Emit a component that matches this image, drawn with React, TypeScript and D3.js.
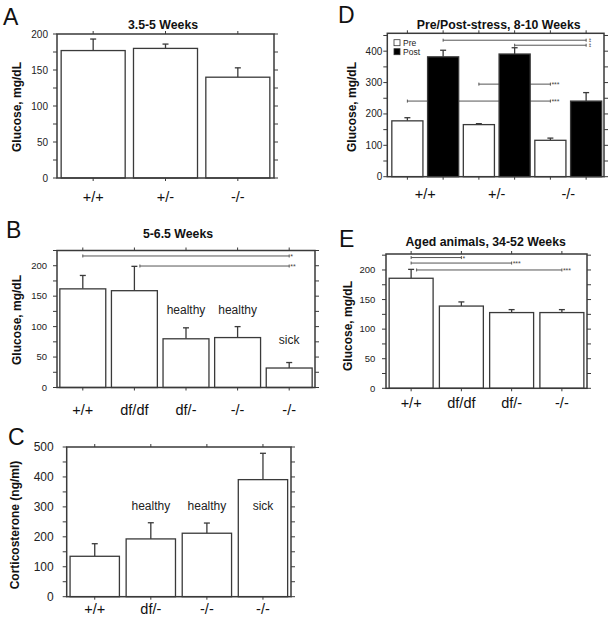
import React from 'react';
import * as d3 from 'd3';

// ---------- data ----------
const catsA = ['+/+', '+/-', '-/-'];
const valsA = [177, 180, 140];
const errA = [193, 186, 153];

const catsB = ['+/+', 'df/df', 'df/-', '-/-', '-/-'];
const valsB = [162, 159, 80, 82, 32];
const errB = [184, 199, 98, 100, 41];
const notesB = ['', '', 'healthy', 'healthy', 'sick'];
const noteValsB = [0, 0, 127, 127, 78];

const catsC = ['+/+', 'df/-', '-/-', '-/-'];
const valsC = [135, 193, 212, 391];
const errC = [177, 247, 246, 479];
const notesC = ['', 'healthy', 'healthy', 'sick'];
const noteValsC = [0, 304, 304, 304];

const catsD = ['+/+', '+/-', '-/-'];
const seriesD = ['Pre', 'Post'];
const preD = [178, 166, 116];
const preErrD = [188, 169, 123];
const postD = [382, 391, 241];
const postErrD = [403, 411, 268];

const catsE = ['+/+', 'df/df', 'df/-', '-/-'];
const valsE = [186, 139, 128, 128];
const errE = [201, 146, 133, 133];

const ticksGlucose = [0, 50, 100, 150, 200];
const ticksD = [0, 100, 200, 300, 400];
const ticksC = [0, 100, 200, 300, 400, 500];

type Sig = { from: number; to: number; value: number; label: string; afterCap?: boolean; behind?: boolean; vertical?: boolean };
const sigB: Sig[] = [
  { from: 0, to: 4, value: 216, label: '*' },
  { from: 1, to: 4, value: 199.5, label: '**', afterCap: true },
];
const sigD: Sig[] = [
  { from: 1, to: 5, value: 435, label: '**', vertical: true },
  { from: 3, to: 5, value: 419, label: '**', vertical: true },
  { from: 2, to: 4, value: 295, label: '***', behind: true },
  { from: 0, to: 4, value: 241, label: '***', behind: true },
];
const sigE: Sig[] = [
  { from: 0, to: 1, value: 221, label: '*' },
  { from: 0, to: 2, value: 211.7, label: '***' },
  { from: 0, to: 3, value: 200, label: '***', afterCap: true },
];

// ---------- rendering ----------
const FONT = '"Liberation Sans", Arial, Helvetica, sans-serif';
const INK = '#222';
const LINE = '#3a3a3a';

type Bar = { v: number; e: number; fill: string; note?: string; noteV?: number };

type PanelProps = {
  l: number; r: number; t: number; b: number;
  bandL?: number; bandR?: number;
  ymax: number; ticks: number[]; minorStep: number;
  bars: Bar[]; barFrac: number;
  xLabels: { text: string; idx: number[] }[]; xLabelBase: number; xFont?: number;
  title: string; titleX: number; titleY: number;
  ylabel: string; ylabelX: number; ylabelY: number;
  letter: string; letterX: number; letterY: number;
  tickFont: number; labelGap: number;
  sigs?: Sig[];
  legend?: { names: string[]; fills: string[]; x: number; y: number };
};

function Panel(p: PanelProps) {
  const x = d3.scaleBand<number>()
    .domain(d3.range(p.bars.length))
    .range([p.bandL ?? p.l, p.bandR ?? p.r])
    .padding(0);
  const y = d3.scaleLinear().domain([0, p.ymax]).range([p.b, p.t]);
  const bw = x.bandwidth() * p.barFrac;
  const cx = (i: number) => (x(i) as number) + x.bandwidth() / 2;
  const minor = d3.range(0, p.ymax + 0.001, p.minorStep);
  const cap = 3;

  const sigEl = (s: Sig, k: number) => {
    const yy = y(s.value);
    const x1 = cx(s.from) + (s.afterCap ? cap + 2.5 : 0);
    const x2 = cx(s.to);
    return (
      <g key={'s' + k} stroke="#555" strokeWidth={1}>
        <line x1={x1} x2={x2} y1={yy} y2={yy} />
        <line x1={x1} x2={x1} y1={yy - 1.5} y2={yy + 1.5} />
        <line x1={x2} x2={x2} y1={yy - 1.5} y2={yy + 1.5} />
        {s.vertical ? (
          <text transform={`translate(${x2 + 2.5},${yy}) rotate(90)`} fontSize={5} fill="#444" stroke="none"
            textAnchor="middle" dominantBaseline="central" fontFamily={FONT}>{s.label}</text>
        ) : (
          <text x={x2 + 1} y={yy + 3} fontSize={7} fill="#444" stroke="none" fontFamily={FONT}>{s.label}</text>
        )}
      </g>
    );
  };

  return (
    <g fontFamily={FONT}>
      <text x={p.letterX} y={p.letterY} fontSize={23} fill="#111">{p.letter}</text>
      {p.title ? (
        <text x={p.titleX} y={p.titleY} fontSize={12.3} fontWeight="bold" textAnchor="middle" fill="#111">{p.title}</text>
      ) : null}
      <text transform={`translate(${p.ylabelX},${p.ylabelY}) rotate(-90)`} fontSize={12} fontWeight="bold"
        textAnchor="middle" dominantBaseline="central" fill="#111">{p.ylabel}</text>

      {(p.sigs || []).filter(s => s.behind).map(sigEl)}

      {p.bars.map((d, i) => (
        <g key={i}>
          <line x1={cx(i)} x2={cx(i)} y1={y(d.v)} y2={y(d.e)} stroke={LINE} strokeWidth={1.3} />
          <line x1={cx(i) - cap} x2={cx(i) + cap} y1={y(d.e)} y2={y(d.e)} stroke={LINE} strokeWidth={1.3} />
          <rect x={cx(i) - bw / 2} y={y(d.v)} width={bw} height={y(0) - y(d.v)}
            fill={d.fill} stroke={LINE} strokeWidth={1.3} />
          {d.note ? (
            <text x={cx(i)} y={y(d.noteV || 0)} fontSize={12} textAnchor="middle" dominantBaseline="central" fill={INK}>{d.note}</text>
          ) : null}
        </g>
      ))}

      {(p.sigs || []).filter(s => !s.behind).map(sigEl)}

      <rect x={p.l} y={p.t} width={p.r - p.l} height={p.b - p.t} fill="none" stroke={LINE} strokeWidth={1.5} />
      {minor.map((v, i) => (
        <g key={'m' + i} stroke={LINE} strokeWidth={1}>
          <line x1={p.l - 4} x2={p.l} y1={y(v)} y2={y(v)} />
          <line x1={p.r} x2={p.r + 4} y1={y(v)} y2={y(v)} />
        </g>
      ))}
      {p.ticks.map(v => (
        <text key={'t' + v} x={p.l - p.labelGap} y={y(v)} dy="0.35em" fontSize={p.tickFont} textAnchor="end" fill={INK}>{v}</text>
      ))}
      {p.bars.map((_, i) => (
        <g key={'c' + i} stroke={LINE} strokeWidth={1}>
          <line x1={cx(i)} x2={cx(i)} y1={p.t - 3} y2={p.t} />
          <line x1={cx(i)} x2={cx(i)} y1={p.b} y2={p.b + 3} />
        </g>
      ))}
      {p.xLabels.map((lb, i) => (
        <text key={'x' + i} x={d3.mean(lb.idx.map(cx)) as number} y={p.xLabelBase} fontSize={p.xFont ?? 14.5}
          textAnchor="middle" fill="#111">{lb.text}</text>
      ))}

      {p.legend ? (
        <g>
          {p.legend.names.map((n, i) => (
            <g key={n}>
              <rect x={p.legend!.x} y={p.legend!.y + i * 9 - 3} width={6} height={6} fill={p.legend!.fills[i]} stroke="#333" strokeWidth={0.8} />
              <text x={p.legend!.x + 9} y={p.legend!.y + i * 9} dy="0.35em" fontSize={8.5} fill={INK}>{n}</text>
            </g>
          ))}
        </g>
      ) : null}
    </g>
  );
}

const simpleBars = (vals: number[], errs: number[], notes?: string[], noteVals?: number[]): Bar[] =>
  vals.map((v, i) => ({ v, e: errs[i], fill: '#fff', note: notes ? notes[i] : undefined, noteV: noteVals ? noteVals[i] : undefined }));

export default function App() {
  const barsD: Bar[] = [];
  catsD.forEach((_, i) => {
    barsD.push({ v: preD[i], e: preErrD[i], fill: '#fff' });
    barsD.push({ v: postD[i], e: postErrD[i], fill: '#000' });
  });
  return (
    <svg width={611} height={625} style={{ position: 'absolute', left: 0, top: 0, background: '#fff' }}>
      <rect width={611} height={625} fill="#fff" />
      <Panel l={57} r={274} t={34} b={178} ymax={200} ticks={ticksGlucose} minorStep={25}
        bars={simpleBars(valsA, errA)} barFrac={0.885}
        xLabels={catsA.map((c, i) => ({ text: c, idx: [i] }))} xLabelBase={201.7}
        title="3.5-5 Weeks" titleX={163} titleY={29}
        ylabel="Glucose, mg/dL" ylabelX={17} ylabelY={107}
        letter="A" letterX={3} letterY={25} tickFont={10} labelGap={9} />
      <Panel l={57} r={315} t={250.5} b={387.5} ymax={225} ticks={ticksGlucose} minorStep={25}
        bars={simpleBars(valsB, errB, notesB, noteValsB)} barFrac={0.89}
        xLabels={catsB.map((c, i) => ({ text: c, idx: [i] }))} xLabelBase={415}
        title="5-6.5 Weeks" titleX={178} titleY={238}
        ylabel="Glucose, mg/dL" ylabelX={17} ylabelY={320}
        letter="B" letterX={6} letterY={238} tickFont={9.5} labelGap={10} sigs={sigB} />
      <Panel l={66.7} r={291} t={447} b={596.7} ymax={500} ticks={ticksC} minorStep={50}
        bars={simpleBars(valsC, errC, notesC, noteValsC)} barFrac={0.88}
        xLabels={catsC.map((c, i) => ({ text: c, idx: [i] }))} xLabelBase={614}
        title="" titleX={0} titleY={0}
        ylabel="Corticosterone (ng/ml)" ylabelX={15} ylabelY={525}
        letter="C" letterX={8} letterY={445} tickFont={12} labelGap={13} />
      <Panel l={387.3} r={604} bandL={389.5} bandR={604} t={33.3} b={176.7} ymax={457} ticks={ticksD} minorStep={50}
        bars={barsD} barFrac={0.87}
        xLabels={catsD.map((c, i) => ({ text: c, idx: [2 * i, 2 * i + 1] }))} xLabelBase={199}
        title="Pre/Post-stress, 8-10 Weeks" titleX={498.7} titleY={29}
        ylabel="Glucose, mg/dL" ylabelX={352} ylabelY={107}
        letter="D" letterX={338} letterY={23} tickFont={10} labelGap={5} sigs={sigD}
        legend={{ names: seriesD, fills: ['#fff', '#000'], x: 394, y: 42.7 }} />
      <Panel l={386} r={587} t={254} b={388.3} ymax={227} ticks={ticksGlucose} minorStep={25}
        bars={simpleBars(valsE, errE)} barFrac={0.875}
        xLabels={catsE.map((c, i) => ({ text: c, idx: [i] }))} xLabelBase={408}
        title="Aged animals, 34-52 Weeks" titleX={485.7} titleY={246}
        ylabel="Glucose, mg/dL" ylabelX={348} ylabelY={326}
        letter="E" letterX={339} letterY={247} tickFont={9.5} labelGap={10.7} sigs={sigE} />
    </svg>
  );
}
